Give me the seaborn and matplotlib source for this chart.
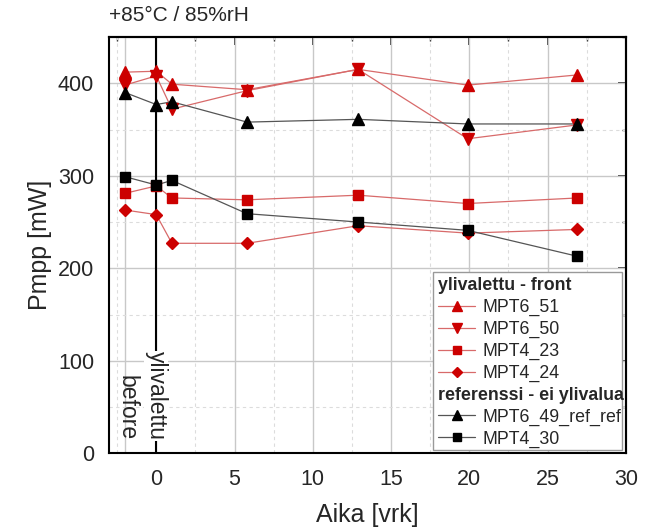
import numpy as np
import pandas as pd
import seaborn as sns
import matplotlib.pyplot as plt
from matplotlib.lines import Line2D
from matplotlib.patches import Rectangle
from matplotlib.ticker import MultipleLocator

# aikapisteet (vrk)
aika = [-2, 0, 1, 5.8, 12.9, 19.9, 26.9]

# ylivalettu - front
mpt6_51 = [412, 413, 399, 393, 415, 398, 409]
mpt6_50 = [398, 408, 372, 392, 415, 340, 355]
mpt4_23 = [281, 289, 276, 274, 279, 270, 276]
mpt4_24 = [263, 258, 227, 227, 246, 238, 242]

# referenssi - ei ylivalua
mpt6_49 = [390, 377, 380, 358, 361, 356, 356]
mpt4_30 = [299, 290, 295, 259, 250, 241, 213]

sarjat = [
    ("MPT6_51", mpt6_51, "#cc0000", "^", 8.5),
    ("MPT6_50", mpt6_50, "#cc0000", "v", 8.5),
    ("MPT4_23", mpt4_23, "#cc0000", "s", 7),
    ("MPT4_24", mpt4_24, "#cc0000", "D", 6.5),
    ("MPT6_49_ref_ref", mpt6_49, "black", "^", 8.5),
    ("MPT4_30", mpt4_30, "black", "s", 7),
]

sns.set_style("white")
plt.rcParams['font.family'] = ['Liberation Sans', 'DejaVu Sans']

fig = plt.figure(figsize=(6.45, 5.31), dpi=100)
ax = fig.add_axes([109.3 / 645, 1 - 453.3 / 531, 516.5 / 645, 416.3 / 531])

# ruudukko
ax.xaxis.set_major_locator(MultipleLocator(5))
ax.xaxis.set_minor_locator(MultipleLocator(2.5))
ax.yaxis.set_major_locator(MultipleLocator(100))
ax.yaxis.set_minor_locator(MultipleLocator(50))
ax.grid(which='major', color='#c8c8c8', lw=1.0)
ax.grid(which='minor', color='#dcdcdc', lw=0.8, ls=(0, (3, 3)))
ax.set_axisbelow(True)
ax.axvline(-2, color='#c8c8c8', lw=1.0, zorder=0.5)

for nimi, arvot, vari, merkki, koko in sarjat:
    viivavari = '#d86a6a' if vari != 'black' else '#555555'
    sns.lineplot(x=aika, y=arvot, ax=ax, color=viivavari, lw=0.9,
                 marker=None, legend=False, zorder=2)
    ax.plot(aika, arvot, ls='none', marker=merkki, ms=koko, color=vari,
            mec=vari, zorder=3)

# pystyviiva nollassa
ax.axvline(0, color='black', lw=1.5, zorder=2.5)
ax.text(0, 14, "ylivalettu", rotation=270, ha='center', va='bottom',
        fontsize=16.5, zorder=4,
        bbox=dict(facecolor='white', edgecolor='none', pad=0.5))
ax.text(-1.85, 14, "before", rotation=270, ha='center', va='bottom',
        fontsize=16.5, zorder=4)

ax.set_xlim(-3, 30)
ax.set_ylim(0, 450)
ax.set_xlabel("Aika [vrk]", fontsize=18, labelpad=10)
ax.set_ylabel("Pmpp [mW]", fontsize=18, labelpad=4)
ax.text(0.0, 1.03, "+85\u00b0C / 85%rH", transform=ax.transAxes,
        fontsize=15, ha='left', va='bottom')

ax.tick_params(axis='both', which='major', labelsize=15.5, length=6,
               width=1.2, pad=5, direction='out')
ax.tick_params(axis='both', which='minor', length=3, width=1.0,
               direction='out')

# ylä- ja oikean reunan tikit sisäänpäin
ylä = ax.secondary_xaxis('top')
ylä.xaxis.set_major_locator(MultipleLocator(5))
ylä.xaxis.set_minor_locator(MultipleLocator(2.5))
ylä.tick_params(which='major', direction='in', length=6, width=1.2,
                labeltop=False)
ylä.tick_params(which='minor', direction='in', length=3, width=1.0)
oikea = ax.secondary_yaxis('right')
oikea.yaxis.set_major_locator(MultipleLocator(100))
oikea.yaxis.set_minor_locator(MultipleLocator(50))
oikea.tick_params(which='major', direction='in', length=6, width=1.2,
                  labelright=False)
oikea.tick_params(which='minor', direction='in', length=3, width=1.0)
for a in (ax, ylä, oikea):
    for s in a.spines.values():
        s.set_color('black')
        s.set_linewidth(1.5)

# selite otsikoineen
tyhja = Line2D([], [], ls='none', marker=None)
kahvat = [tyhja]
tekstit = ["ylivalettu - front"]
for i, (nimi, arvot, vari, merkki, koko) in enumerate(sarjat):
    if i == 4:
        kahvat.append(tyhja)
        tekstit.append("referenssi - ei ylivalua")
    viivavari = '#d86a6a' if vari != 'black' else '#555555'
    kahvat.append(Line2D([], [], color=viivavari, lw=0.9, marker=merkki,
                         ms=koko * 0.8, mfc=vari, mec=vari))
    tekstit.append(nimi)

fs = 12.8
hl, htp = 2.1, 0.4
ax.add_patch(Rectangle((0.626, 0.008), 0.366, 0.428, transform=ax.transAxes,
                       facecolor='white', edgecolor='#999999', lw=1.0,
                       zorder=5))
leg = ax.legend(kahvat, tekstit, loc='upper left', fontsize=fs,
                bbox_to_anchor=(0.626, 0.436), handlelength=hl,
                handletextpad=htp, borderpad=0.3, borderaxespad=0,
                labelspacing=0.27, frameon=False)
leg.set_zorder(6)
siirto = (hl + htp) * fs * fig.dpi / 72
for t in leg.get_texts():
    if t.get_text() in ("ylivalettu - front", "referenssi - ei ylivalua"):
        t.set_fontweight('bold')
        t.set_x(-siirto)

fig.savefig("out.png", dpi=100)
